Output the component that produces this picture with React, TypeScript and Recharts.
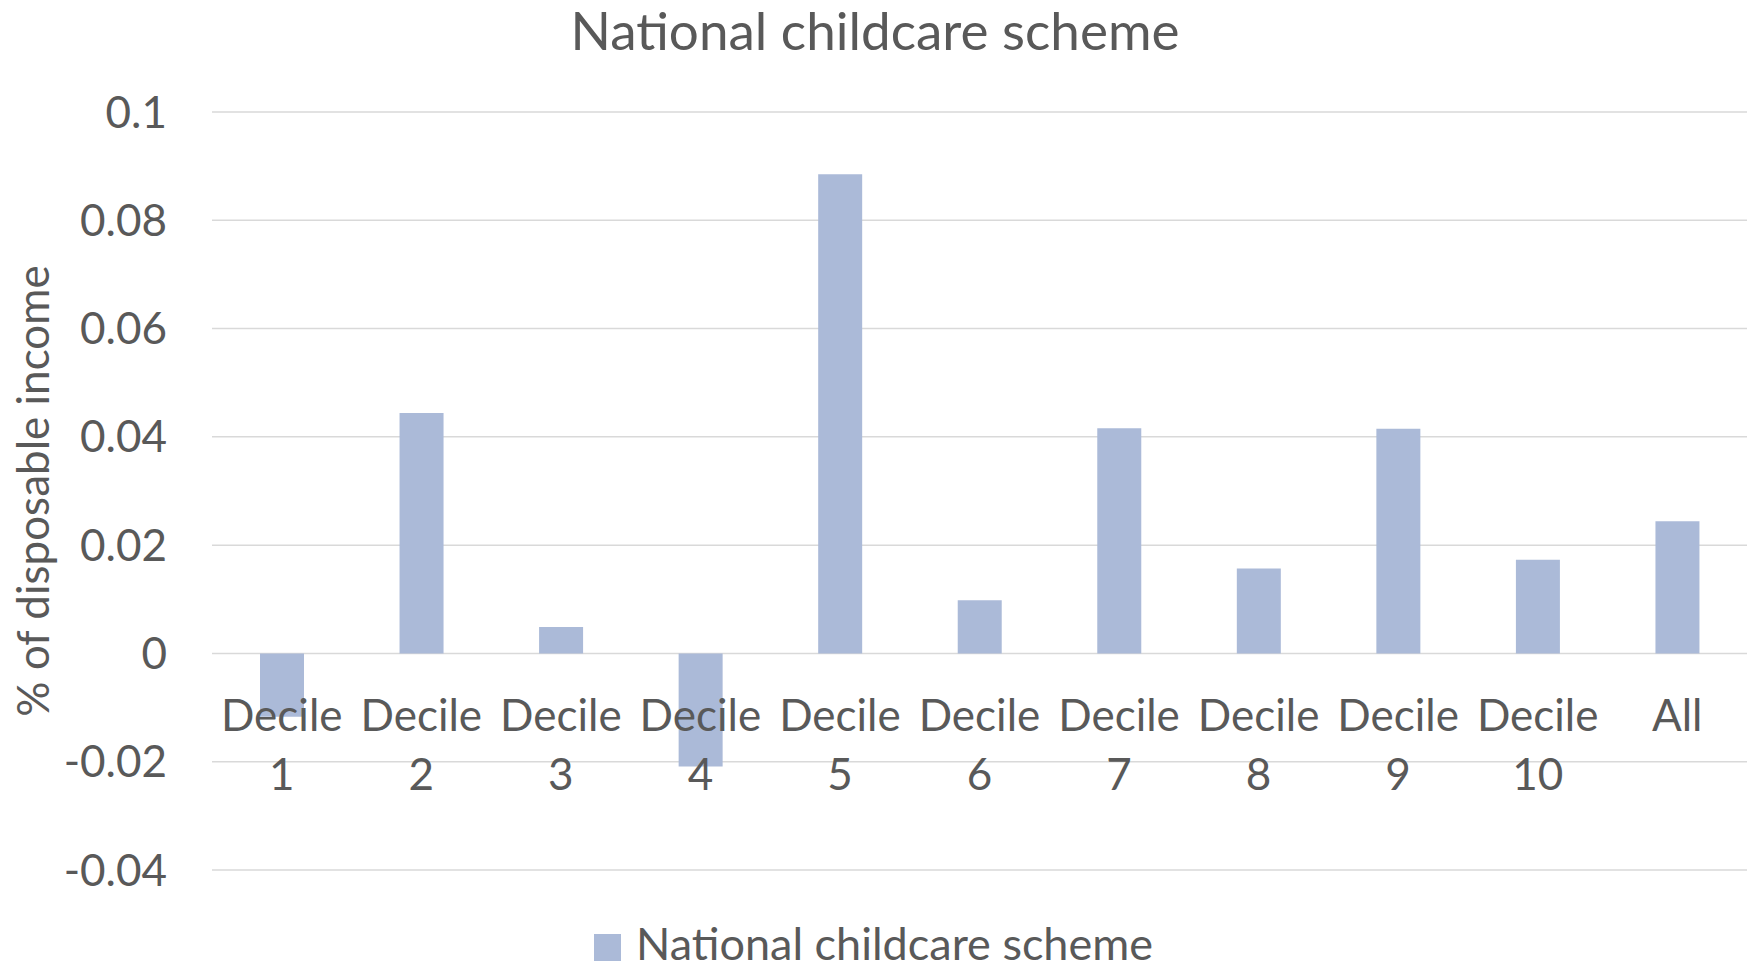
import React from "react";
import {
  BarChart,
  Bar,
  XAxis,
  YAxis,
  CartesianGrid,
  Legend,
} from "recharts";

const categories = [
  "Decile 1",
  "Decile 2",
  "Decile 3",
  "Decile 4",
  "Decile 5",
  "Decile 6",
  "Decile 7",
  "Decile 8",
  "Decile 9",
  "Decile 10",
  "All",
];
const schemeValues = [
  -0.0117, 0.0444, 0.0049, -0.0209, 0.0885, 0.0098, 0.0416, 0.0157, 0.0415,
  0.0173, 0.0244,
];
const yTicks = [-0.04, -0.02, 0, 0.02, 0.04, 0.06, 0.08, 0.1];

const data = categories.map((name, i) => ({ name, scheme: schemeValues[i] }));

const W = 1750;
const H = 967;
const TOP = 112;
const BOTTOM = 97;
const PLOT_H = H - TOP - BOTTOM;
const Y_MIN = -0.04;
const Y_MAX = 0.1;
// pixel row of the zero line, relative to the bottom of the plot
const ZERO_UP = (PLOT_H * (0 - Y_MIN)) / (Y_MAX - Y_MIN);

const TEXT = "#595959";
const BAR = "#abbad8";
const FONT = "Lato, 'Open Sans', sans-serif";
const AXIS_FONT = 44;

function CategoryTick(props: any) {
  const { x, y, payload } = props;
  const [first, ...rest] = String(payload.value).split(" ");
  const base = y - ZERO_UP + 76;
  return (
    <g>
      <text x={x} y={base} textAnchor="middle" fill={TEXT} fontSize={AXIS_FONT} fontFamily={FONT}>
        {first}
      </text>
      {rest.length > 0 && (
        <text x={x} y={base + 59} textAnchor="middle" fill={TEXT} fontSize={AXIS_FONT} fontFamily={FONT}>
          {rest.join(" ")}
        </text>
      )}
    </g>
  );
}

function LegendBox() {
  return (
    <div
      style={{
        display: "flex",
        justifyContent: "center",
        alignItems: "flex-end",
        fontFamily: FONT,
        fontSize: 45,
        lineHeight: "44px",
        color: TEXT,
        height: 44,
        overflow: "visible",
      }}
    >
      <span style={{ width: 27, height: 27, background: BAR, marginRight: 15, marginBottom: 4 }} />
      <span>National childcare scheme</span>
    </div>
  );
}

export default function App() {
  return (
    <div style={{ position: "relative", width: W, height: H, background: "#fff" }}>
      <style>{`body{margin:0}`}</style>
      <div
        style={{
          position: "absolute",
          top: 3,
          left: 0,
          width: W,
          textAlign: "center",
          fontFamily: FONT,
          fontSize: 53,
          lineHeight: "53px",
          color: TEXT,
        }}
      >
        National childcare scheme
      </div>
      <BarChart
        width={W}
        height={H}
        data={data}
        margin={{ top: TOP, right: 3, bottom: 2, left: 0 }}
      >
        <CartesianGrid vertical={false} stroke="#d9d9d9" strokeWidth={1.5} />
        <XAxis
          dataKey="name"
          axisLine={false}
          tickLine={false}
          tickSize={0}
          height={BOTTOM - 46}
          interval={0}
          tick={<CategoryTick />}
        />
        <YAxis
          width={212}
          domain={[Y_MIN, Y_MAX]}
          ticks={yTicks}
          axisLine={false}
          tickLine={false}
          tickSize={0}
          tickMargin={45}
          tick={{ fill: TEXT, fontSize: AXIS_FONT, fontFamily: FONT }}
          label={{
            value: "% of disposable income",
            angle: -90,
            position: "insideLeft",
            offset: 33,
            style: { textAnchor: "middle", fill: TEXT, fontSize: AXIS_FONT, fontFamily: FONT },
          }}
        />
        <Legend verticalAlign="bottom" height={44} content={() => <LegendBox />} />
        <Bar
          dataKey="scheme"
          name="National childcare scheme"
          fill={BAR}
          barSize={44}
          isAnimationActive={false}
        />
      </BarChart>
    </div>
  );
}
